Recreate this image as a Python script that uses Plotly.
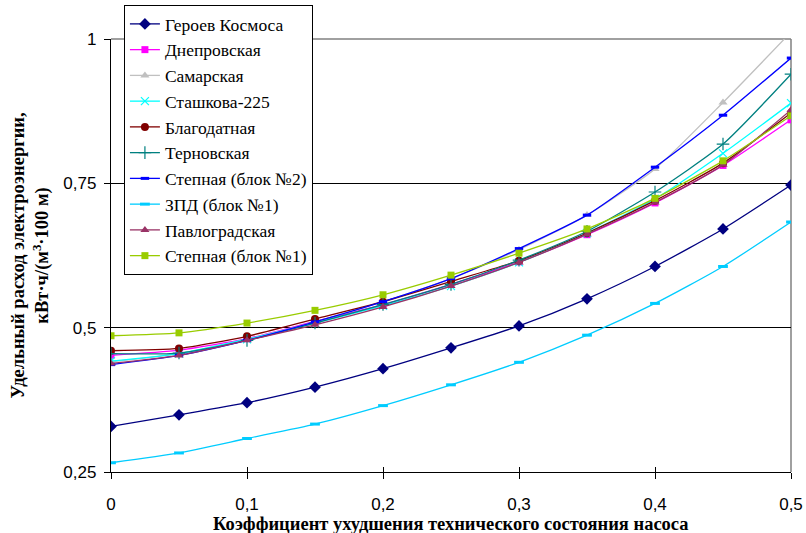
import plotly.graph_objects as go

# Pump degradation coefficient
x_vals = [0, 0.05, 0.1, 0.15, 0.2, 0.25, 0.3, 0.35, 0.4, 0.45, 0.5]

# Specific energy consumption per station, kWh/(m3*100 m)
geroev_kosmosa = [0.329, 0.349, 0.370, 0.397, 0.429, 0.465, 0.503, 0.550, 0.606, 0.671, 0.747]
dneprovskaya = [0.452, 0.461, 0.481, 0.511, 0.540, 0.575, 0.614, 0.661, 0.716, 0.781, 0.860]
samarskaya = [0.441, 0.455, 0.480, 0.510, 0.545, 0.585, 0.635, 0.695, 0.775, 0.890, 1.012]
stashkova_225 = [0.442, 0.455, 0.480, 0.508, 0.538, 0.572, 0.613, 0.664, 0.723, 0.802, 0.889]
blagodatnaya = [0.460, 0.464, 0.485, 0.515, 0.545, 0.580, 0.616, 0.664, 0.720, 0.785, 0.872]
ternovskaya = [0.455, 0.456, 0.478, 0.508, 0.540, 0.575, 0.617, 0.667, 0.735, 0.818, 0.939]
stepnaya_2 = [0.436, 0.452, 0.478, 0.510, 0.545, 0.585, 0.637, 0.695, 0.778, 0.868, 0.967]
zpd_1 = [0.266, 0.283, 0.308, 0.333, 0.365, 0.401, 0.440, 0.487, 0.542, 0.606, 0.683]
pavlogradskaya = [0.438, 0.452, 0.478, 0.505, 0.536, 0.572, 0.613, 0.662, 0.717, 0.782, 0.877]
stepnaya_1 = [0.486, 0.491, 0.508, 0.530, 0.557, 0.591, 0.629, 0.671, 0.724, 0.789, 0.867]

x_ticks = [0, 0.1, 0.2, 0.3, 0.4, 0.5]
x_ticktext = ["0", "0,1", "0,2", "0,3", "0,4", "0,5"]
y_ticks = [0.25, 0.5, 0.75, 1.0]
y_ticktext = ["0,25", "0,5", "0,75", "1"]

SERIF = "Liberation Serif"
SANS = "Liberation Sans"

series = [
    ("Героев Космоса", geroev_kosmosa, "#000080", "diamond", 9, 0),
    ("Днепровская", dneprovskaya, "#FF00FF", "square", 7, 0),
    ("Самарская", samarskaya, "#C0C0C0", "triangle-up", 8, 0),
    ("Сташкова-225", stashkova_225, "#00FFFF", "x-thin", 8, 1.2),
    ("Благодатная", blagodatnaya, "#800000", "circle", 8, 0),
    ("Терновская", ternovskaya, "#008080", "cross-thin", 9, 1.2),
    ("Степная (блок №2)", stepnaya_2, "#0000FF", "line-ew", 6, 3),
    ("ЗПД (блок №1)", zpd_1, "#00CCFF", "line-ew", 7, 3),
    ("Павлоградская", pavlogradskaya, "#993366", "triangle-up", 8, 0),
    ("Степная (блок №1)", stepnaya_1, "#99CC00", "square", 7, 0),
]

fig = go.Figure()
for name, ys, color, symbol, size, lw in series:
    fig.add_trace(go.Scatter(
        x=x_vals, y=ys, name=name, mode="lines+markers",
        legendgroup=name,
        line=dict(color=color, width=1.3, shape="spline", smoothing=0.6),
        marker=dict(symbol=symbol, size=size, color=color,
                    line=dict(color=color, width=lw)),
    ))

# Companion axes that add the inner half of the crossing tick marks
fig.add_trace(go.Scatter(x=[None], y=[None], xaxis="x2", yaxis="y2",
                         showlegend=False, hoverinfo="skip"))

# Gray frame on the top and right edges of the plot area
fig.add_shape(type="line", xref="paper", yref="paper", x0=0, x1=1, y0=1, y1=1,
              line=dict(color="#808080", width=1.5), layer="between")
fig.add_shape(type="line", xref="paper", yref="paper", x0=1, x1=1, y0=0, y1=1,
              line=dict(color="#808080", width=1.5), layer="between")

# X axis title, placed just under the tick labels
fig.add_annotation(
    text="<b>Коэффициент ухудшения технического состояния насоса</b>",
    xref="paper", yref="paper", x=0.5, y=0, xanchor="center", yanchor="middle",
    yshift=-52, showarrow=False,
    font=dict(family=SERIF, size=18.5, color="black"),
)

fig.update_layout(
    width=806, height=533,
    margin=dict(l=111, r=15, t=39, b=61, autoexpand=False),
    plot_bgcolor="white", paper_bgcolor="white",
    font=dict(family=SERIF, size=15, color="black"),
    showlegend=True,
    legend=dict(
        x=0.019, y=1.0785, xanchor="left", yanchor="top",
        bgcolor="white", bordercolor="black", borderwidth=1,
        font=dict(family=SERIF, size=17.5, color="black"),
        traceorder="grouped", tracegroupgap=0,
        itemwidth=30, maxheight=500,
    ),
    xaxis=dict(
        range=[0, 0.5], tickvals=x_ticks, ticktext=x_ticktext,
        showgrid=False, zeroline=False, automargin=False,
        showline=True, linecolor="black", linewidth=1.3,
        ticks="outside", ticklen=6, tickcolor="black",
        ticklabelstandoff=10,
        tickfont=dict(family=SANS, size=17),
    ),
    yaxis=dict(
        range=[0.25, 1.0], tickvals=y_ticks, ticktext=y_ticktext,
        showgrid=True, gridcolor="black", gridwidth=1,
        zeroline=False, automargin=False,
        showline=True, linecolor="black", linewidth=1.3,
        ticks="outside", ticklen=6, tickcolor="black",
        ticklabelstandoff=4,
        tickfont=dict(family=SANS, size=17),
        title=dict(text="<b>Удельный расход электроэнергии,<br>кВт·ч/(м<sup>3</sup>·100 м)</b>",
                   font=dict(family=SERIF, size=18.5),
                   standoff=9),
    ),
    xaxis2=dict(
        overlaying="x", anchor="y2", range=[0, 0.5], tickvals=x_ticks,
        showticklabels=False, showgrid=False, zeroline=False, showline=False,
        ticks="inside", ticklen=5, tickcolor="black",
    ),
    yaxis2=dict(
        overlaying="y", anchor="x2", range=[0.25, 1.0], tickvals=y_ticks,
        showticklabels=False, showgrid=False, zeroline=False, showline=False,
        ticks="inside", ticklen=5, tickcolor="black",
    ),
)

fig.write_html("out.html")
